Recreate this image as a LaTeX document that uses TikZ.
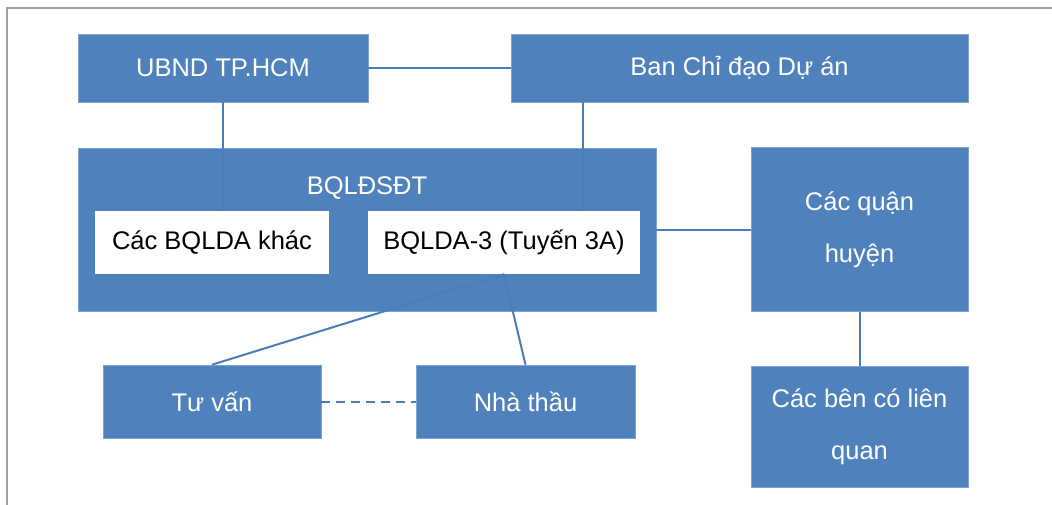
\documentclass[tikz,border=0pt]{standalone}
\usepackage{fontspec}
\setmainfont{Liberation Sans}
\definecolor{boxblue}{HTML}{4F81BD}
\definecolor{lineblue}{HTML}{4A7EBB}
\definecolor{edgeblue}{HTML}{7FA3D0}
\definecolor{framegray}{HTML}{A0A0A0}
\begin{document}
\begin{tikzpicture}[x=1pt,y=-1pt,
  box/.style={draw=edgeblue, line width=0.6pt, fill=boxblue, text=white, inner sep=0pt,
    font=\fontsize{25.5}{52}\selectfont, align=center},
  wbox/.style={fill=white, text=black, inner sep=0pt, font=\fontsize{25.5}{52}\selectfont},
  lbl/.style={text=white, inner sep=0pt, font=\fontsize{25.5}{52}\selectfont},
  conn/.style={draw=lineblue, line width=2pt},
  dconn/.style={conn, dash pattern=on 9pt off 6pt}]
\useasboundingbox (0,0) rectangle (1052,504);
\clip (0,0) rectangle (1052,504);
\fill[white] (0,0) rectangle (1052,504);
\draw[framegray, line width=2.5pt] (7,530) -- (7,8) -- (1080,8);

\node[box, minimum width=290pt, minimum height=68pt] (ubnd) at (223,68) {UBND TP.HCM};
\node[box, minimum width=457pt, minimum height=68pt] (ban) at (739.5,68) {Ban Chỉ đạo Dự án};
\node[box, minimum width=578pt, minimum height=163pt] (big) at (367,229.5) {};
\node[lbl] (bqlt) at (367,188) {BQLĐSĐT};
\node[box, minimum width=217pt, minimum height=164pt] (quan) at (859.5,229.5) {Các quận\\huyện};
\node[box, minimum width=217pt, minimum height=121pt] (ben) at (859.5,427) {Các bên có liên\\quan};
\node[box, minimum width=218pt, minimum height=73pt] (tv) at (212,401.5) {Tư vấn};
\node[box, minimum width=219pt, minimum height=73pt] (nt) at (525.5,401.5) {Nhà thầu};

\coordinate (bx) at (583,0);
\draw[conn] (ubnd.east) -- (ban.west);
\draw[conn] (ubnd.south) -- (ubnd.south |- 0,211);
\draw[conn] (ban.south -| bx) -- (bx |- 0,211);
\draw[conn] (big.east) -- (quan.west);
\draw[conn] (quan.south) -- (ben.north);

\node[wbox, minimum width=234pt, minimum height=63pt] (khac) at (212,242.5) {Các BQLDA khác};
\node[wbox, minimum width=272pt, minimum height=63pt] (b3) at (504,242.5) {BQLDA-3 (Tuyến 3A)};

\draw[conn] (b3.south) -- (tv.north);
\draw[conn] (b3.south) -- (nt.north);
\draw[dconn] (tv.east) -- (nt.west);
\end{tikzpicture}
\end{document}
